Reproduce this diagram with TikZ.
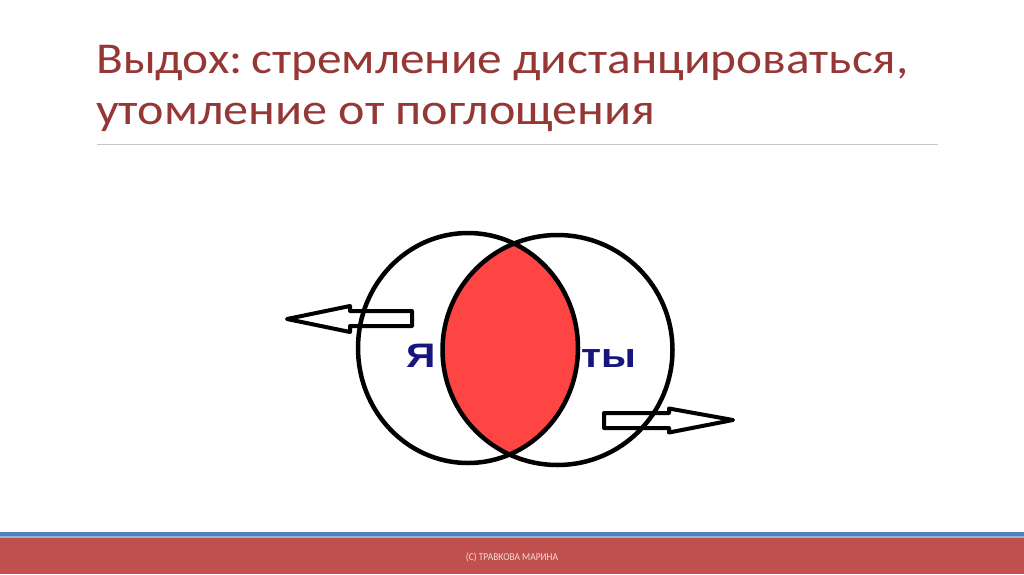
\documentclass[tikz,border=0pt]{standalone}
\usepackage{fontspec}
\setmainfont{Carlito}
\newfontfamily\labelfont{Liberation Sans}
\definecolor{titlered}{RGB}{149,55,53}
\definecolor{rulegray}{RGB}{200,200,200}
\definecolor{bandblue}{RGB}{79,129,189}
\definecolor{bandlight}{RGB}{149,179,215}
\definecolor{barred}{RGB}{192,80,77}
\definecolor{footpink}{RGB}{242,220,219}
\definecolor{lensred}{RGB}{255,68,68}
\definecolor{navy}{RGB}{22,22,125}
\newcommand{\titlestretch}[1]{\scalebox{1.12}[1]{#1}}
\newcommand{\labelstretch}[1]{\scalebox{1.2}[1]{#1}}
\tikzset{
  titletext/.style={anchor=base west,inner sep=0pt,text=titlered,font=\fontsize{44}{44}\selectfont},
  ring/.style={draw=black,line width=4.5pt},
  hollowarrow/.style={draw=black,line width=4pt,line join=round},
  pronoun/.style={inner sep=0pt,text=navy,font=\labelfont\bfseries\fontsize{34}{34}\selectfont}
}
\begin{document}
\begin{tikzpicture}[x=1pt,y=-1pt]
\useasboundingbox (0,0) rectangle (1024,574);
\fill[white] (0,0) rectangle (1024,574);
% title
\node[titletext] (t1) at (96,73) {\titlestretch{Выдох:\kern-0.12em{} стремление дистанцироваться,}};
\node[titletext] (t2) at (96,124) {\scalebox{1.14}[1]{утомление от поглощения}};
\draw[rulegray,line width=1pt] (97,144.5) -- (938,144.5);
% labels
\node[pronoun,anchor=base west] (ya) at (406,367) {\labelstretch{Я}};
\node[pronoun,anchor=base west] (ty) at (581,367) {\labelstretch{ты}};
% lens
\begin{scope}
\clip (468pt,-348pt) ellipse [x radius=110pt, y radius=115pt];
\fill[lensred] (557.5pt,-350pt) circle [radius=115pt];
\end{scope}
% arrows
\draw[hollowarrow] (287,319) -- (350,306) -- (350,311) -- (412,311) -- (412,326) -- (350,326) -- (350,332) -- cycle;
\draw[hollowarrow] (733,420) -- (669,408.5) -- (669,413) -- (604,413) -- (604,428) -- (669,428) -- (669,432.5) -- cycle;
% circles
\draw[ring] (468pt,-348pt) ellipse [x radius=110pt, y radius=115pt];
\draw[ring] (557.5pt,-350pt) circle [radius=115pt];
% footer
\fill[bandblue] (0,531.5) rectangle (1024,536);
\fill[bandlight] (0,536) rectangle (1024,537.5);
\fill[barred] (0,537.5) rectangle (1024,574);
\node[inner sep=0pt,text=footpink,font=\fontsize{10.5}{10.5}\selectfont] (foot) at (512,557) {\scalebox{0.9}[1]{(C) ТРАВКОВА МАРИНА}};
\end{tikzpicture}
\end{document}
